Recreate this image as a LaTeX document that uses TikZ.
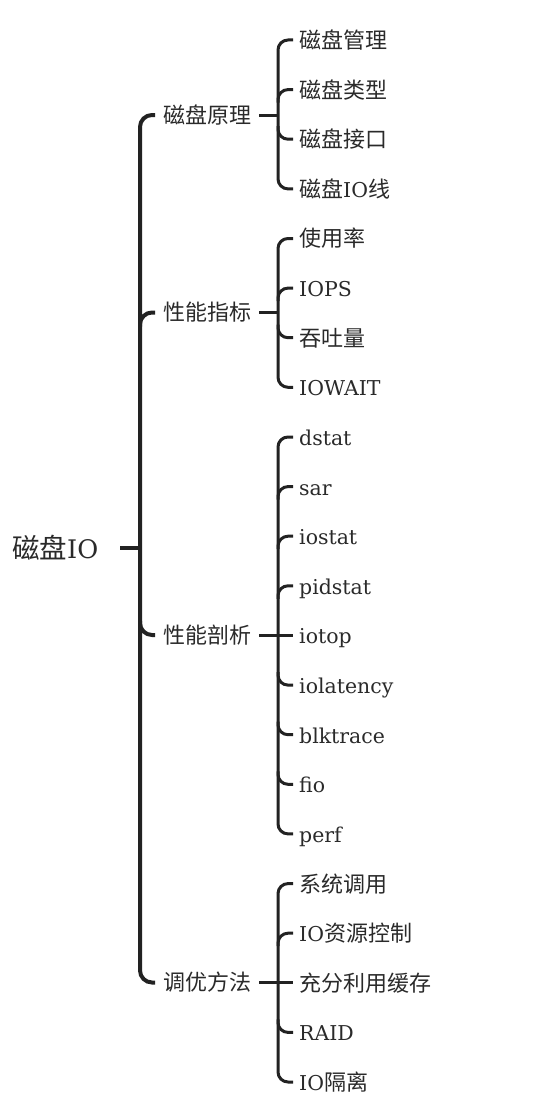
\documentclass[tikz,border=0pt]{standalone}
\usepackage{fontspec}
\setmainfont{DejaVu Serif}[Scale=0.93]
\newfontfamily\cjk{Noto Sans CJK SC}
\usetikzlibrary{calc}
\definecolor{ink}{HTML}{222222}
\definecolor{txt}{HTML}{2A2A2A}
\tikzset{
  lbl/.style={anchor=west, inner sep=0pt, text height=19.4pt, text depth=2.6pt, text=txt, font=\fontsize{22}{26}\selectfont},
  rootlbl/.style={anchor=west, inner sep=0pt, text height=24.2pt, text depth=3.3pt, text=txt, font=\fontsize{27.5}{31}\selectfont},
  trunk/.style={draw=ink, line width=4pt, rounded corners=12pt},
  br/.style={draw=ink, line width=3pt, rounded corners=10pt},
  stubline/.style={draw=ink, line width=3pt},
  rootstub/.style={draw=ink, line width=4pt},
}
\begin{document}
\begin{tikzpicture}[x=1pt,y=-1pt]
\useasboundingbox (0,0) rectangle (556,1116);
% root
\node[rootlbl] (root) at (12,548) {{\cjk 磁盘}IO};
% level 2
\node[lbl] (p1) at (163,115) {\cjk 磁盘原理};
\node[lbl] (p2) at (163,312.5) {\cjk 性能指标};
\node[lbl] (p3) at (163,635) {\cjk 性能剖析};
\node[lbl] (p4) at (163,982.5) {\cjk 调优方法};
% leaves
\node[lbl] (a1) at (299,40) {\cjk 磁盘管理};
\node[lbl] (a2) at (299,89.6) {\cjk 磁盘类型};
\node[lbl] (a3) at (299,139.2) {\cjk 磁盘接口};
\node[lbl] (a4) at (299,188.9) {{\cjk 磁盘}IO{\cjk 线}};
\node[lbl] (b1) at (299,238.5) {\cjk 使用率};
\node[lbl] (b2) at (299,288.1) {IOPS};
\node[lbl] (b3) at (299,337.7) {\cjk 吞吐量};
\node[lbl] (b4) at (299,387.3) {IOWAIT};
\node[lbl] (c1) at (299,437) {dstat};
\node[lbl] (c2) at (299,486.6) {sar};
\node[lbl] (c3) at (299,536.2) {iostat};
\node[lbl] (c4) at (299,585.8) {pidstat};
\node[lbl] (c5) at (299,635.4) {iotop};
\node[lbl] (c6) at (299,685.1) {iolatency};
\node[lbl] (c7) at (299,734.7) {blktrace};
\node[lbl] (c8) at (299,784.3) {fio};
\node[lbl] (c9) at (299,833.9) {perf};
\node[lbl] (d1) at (299,883.6) {\cjk 系统调用};
\node[lbl] (d2) at (299,933.2) {IO{\cjk 资源控制}};
\node[lbl] (d3) at (299,982.8) {\cjk 充分利用缓存};
\node[lbl] (d4) at (299,1032.4) {RAID};
\node[lbl] (d5) at (299,1082) {IO{\cjk 隔离}};

% trunk
\coordinate (tx) at (140,548);
\path[rootstub] ($(tx)+(-20,0)$) -- (tx);
\path[trunk] ($(p1.west)+(-8,0)$) -- (p1.west -| tx) -- (p4.west -| tx) -- ($(p4.west)+(-8,0)$);
\path[trunk] ($(p2.west -| tx)+(0,14)$) -- (p2.west -| tx) -- ($(p2.west)+(-8,0)$);
\path[trunk] ($(p3.west -| tx)+(0,-14)$) -- (p3.west -| tx) -- ($(p3.west)+(-8,0)$);

% brackets: vertical at x = 278, branch end at leaf.west - 6
\coordinate (v1) at (278,0);
% group 1
\path[stubline] ($(p1.east)+(8,0)$) -- (p1.east -| v1);
\path[br] ($(a1.west)+(-6,0)$) -- (a1.west -| v1) -- (a4.west -| v1) -- ($(a4.west)+(-6,0)$);
\path[br] ($(a2.west -| v1)+(0,13)$) -- (a2.west -| v1) -- ($(a2.west)+(-6,0)$);
\path[br] ($(a3.west -| v1)+(0,-13)$) -- (a3.west -| v1) -- ($(a3.west)+(-6,0)$);
% group 2
\path[stubline] ($(p2.east)+(8,0)$) -- (p2.east -| v1);
\path[br] ($(b1.west)+(-6,0)$) -- (b1.west -| v1) -- (b4.west -| v1) -- ($(b4.west)+(-6,0)$);
\path[br] ($(b2.west -| v1)+(0,13)$) -- (b2.west -| v1) -- ($(b2.west)+(-6,0)$);
\path[br] ($(b3.west -| v1)+(0,-13)$) -- (b3.west -| v1) -- ($(b3.west)+(-6,0)$);
% group 3
\path[stubline] ($(p3.east)+(8,0)$) -- (p3.east -| v1);
\path[br] ($(c1.west)+(-6,0)$) -- (c1.west -| v1) -- (c9.west -| v1) -- ($(c9.west)+(-6,0)$);
\foreach \n in {c2,c3,c4}
  \path[br] ($(\n.west -| v1)+(0,13)$) -- (\n.west -| v1) -- ($(\n.west)+(-6,0)$);
\path[stubline] (c5.west -| v1) -- ($(c5.west)+(-6,0)$);
\foreach \n in {c6,c7,c8}
  \path[br] ($(\n.west -| v1)+(0,-13)$) -- (\n.west -| v1) -- ($(\n.west)+(-6,0)$);
% group 4
\path[stubline] ($(p4.east)+(8,0)$) -- (p4.east -| v1);
\path[br] ($(d1.west)+(-6,0)$) -- (d1.west -| v1) -- (d5.west -| v1) -- ($(d5.west)+(-6,0)$);
\path[br] ($(d2.west -| v1)+(0,13)$) -- (d2.west -| v1) -- ($(d2.west)+(-6,0)$);
\path[stubline] (d3.west -| v1) -- ($(d3.west)+(-6,0)$);
\path[br] ($(d4.west -| v1)+(0,-13)$) -- (d4.west -| v1) -- ($(d4.west)+(-6,0)$);
\end{tikzpicture}
\end{document}
